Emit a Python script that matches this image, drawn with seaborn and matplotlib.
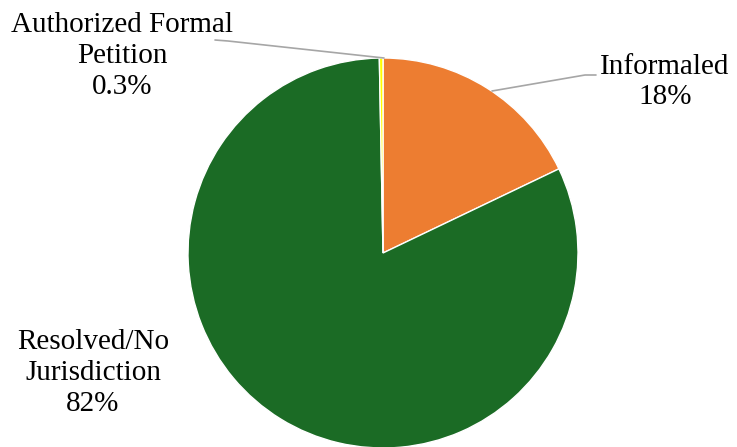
import matplotlib
matplotlib.use("Agg")
import matplotlib.pyplot as plt
import seaborn as sns

labels = ["Informaled", "Resolved/No\nJurisdiction", "Authorized Formal\nPetition"]
shares = [17.9, 81.8, 0.3]
pct_text = ["18%", "82%", "0.3%"]
colors = ["#ED7D31", "#1B6B25", "#FFFF00"]

sns.set_theme(style="white")
plt.rcParams["font.family"] = ["Liberation Serif", "DejaVu Serif"]

fig = plt.figure(figsize=(7.37, 4.47), dpi=100)
ax = fig.add_axes([0, 0, 1, 1])

cx, cy, r = 383, 447 - 253, 195
ax.pie(shares, colors=colors, startangle=90, counterclock=False,
       center=(cx, cy), radius=r, frame=True,
       wedgeprops=dict(edgecolor="white", linewidth=1))
ax.set_xlim(0, 737)
ax.set_ylim(0, 447)
ax.set_aspect("equal")
ax.axis("off")

# label positions (pixel coords, y up)
lab_pos = [(665, 447 - 82), (93, 447 - 373), (122, 447 - 56)]
for lab, pct, (x, y) in zip(labels, pct_text, lab_pos):
    ax.text(x, y, lab + "\n" + pct, ha="center", va="center",
            fontsize=21, linespacing=1.25, color="black")

# leader lines
ax.plot([492, 585, 596], [447 - 91, 447 - 75, 447 - 75], color="#A6A6A6", lw=1.2)
ax.plot([384, 228, 215], [447 - 58, 447 - 41, 447 - 40], color="#A6A6A6", lw=1.2)

fig.savefig("out.png", dpi=100)
